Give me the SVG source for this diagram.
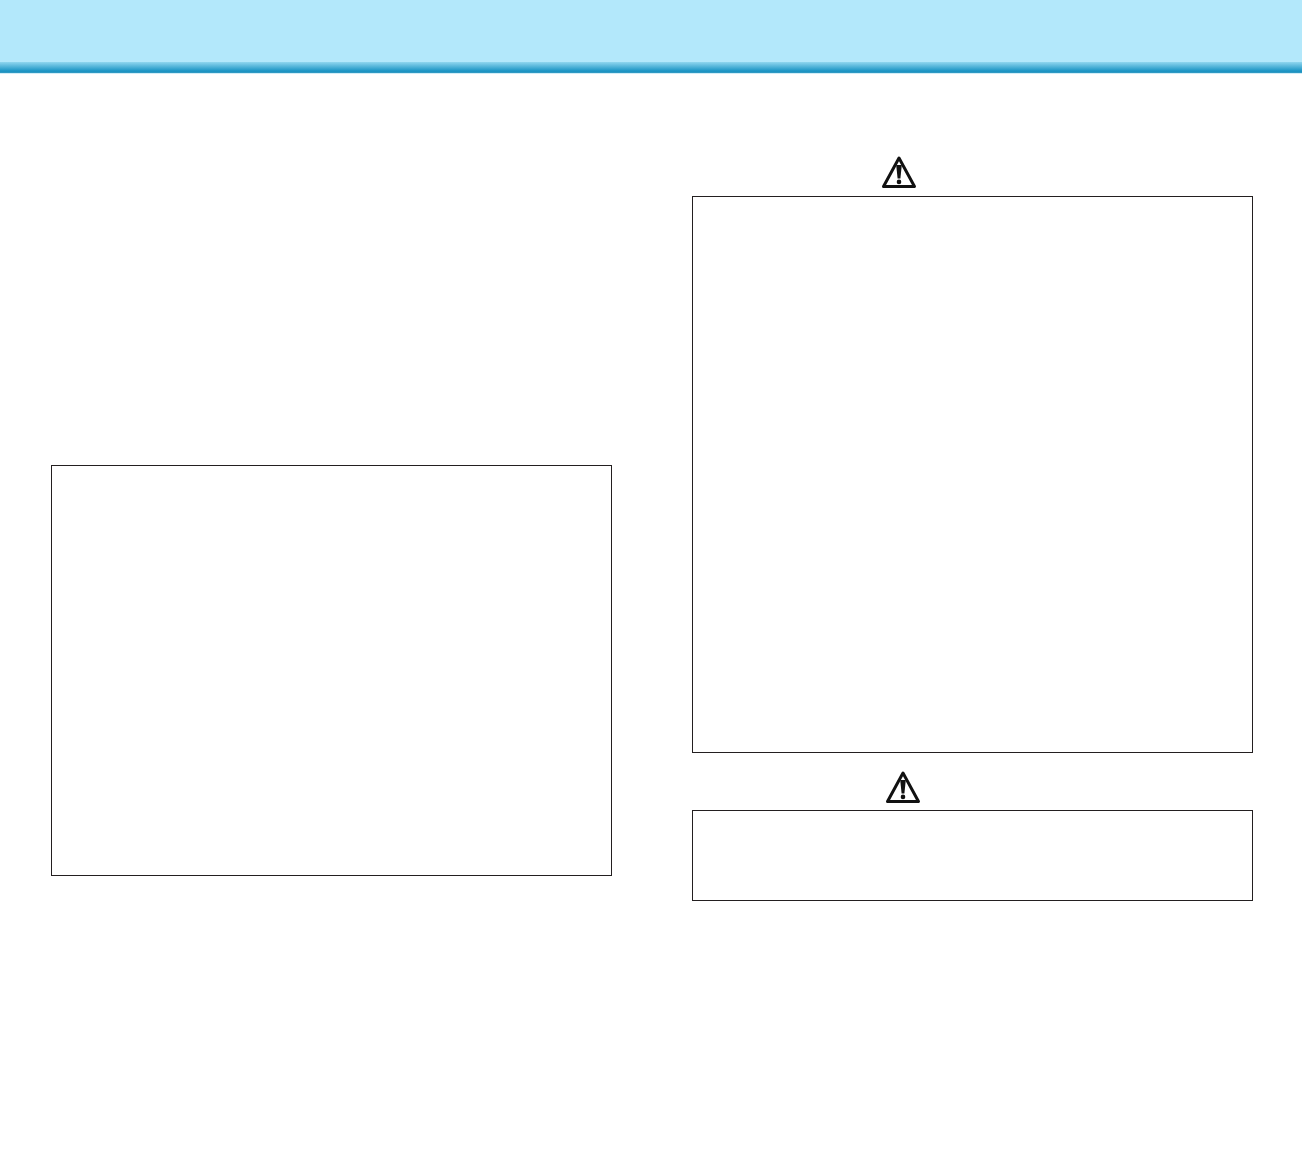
<svg xmlns="http://www.w3.org/2000/svg" width="1302" height="1152" viewBox="0 0 1302 1152">
<style>
.box{fill:#fff;stroke:#231f20;stroke-width:1}
.tri{fill:none;stroke:#111;stroke-width:3;stroke-linejoin:round}
.mark{fill:#111}
</style>
<defs>
<linearGradient id="band" x1="0" y1="0" x2="0" y2="1">
<stop offset="0" stop-color="#8fd6ef"/>
<stop offset="0.75" stop-color="#1f97c6"/>
<stop offset="0.9" stop-color="#1b8fbd"/>
<stop offset="1" stop-color="#a5dcf0"/>
</linearGradient>
<g id="warn">
<path class="tri" d="M0 -14.5 L15.5 14 L-15.5 14 Z"/>
<path class="mark" d="M-2.8 -7.5 L2.8 -7.5 L1.4 6 L-1.4 6 Z"/>
<circle class="mark" cx="0" cy="9.4" r="2.3"/>
</g>
</defs>
<rect width="1302" height="1152" fill="#fff"/>
<g id="header">
<rect width="1302" height="62" fill="#b3e8fb"/>
<rect y="62" width="1302" height="11.5" fill="url(#band)"/>
</g>
<g id="left-box"><rect class="box" x="51.5" y="465.5" width="560" height="410"/></g>
<g id="right-box-top"><rect class="box" x="692.5" y="196.5" width="560" height="556"/></g>
<g id="right-box-bottom"><rect class="box" x="692.5" y="810.5" width="560" height="90"/></g>
<g id="warning-top"><use href="#warn" x="899" y="172.5"/></g>
<g id="warning-bottom"><use href="#warn" x="903" y="787.5"/></g>
<g id="connectors"/>
</svg>
